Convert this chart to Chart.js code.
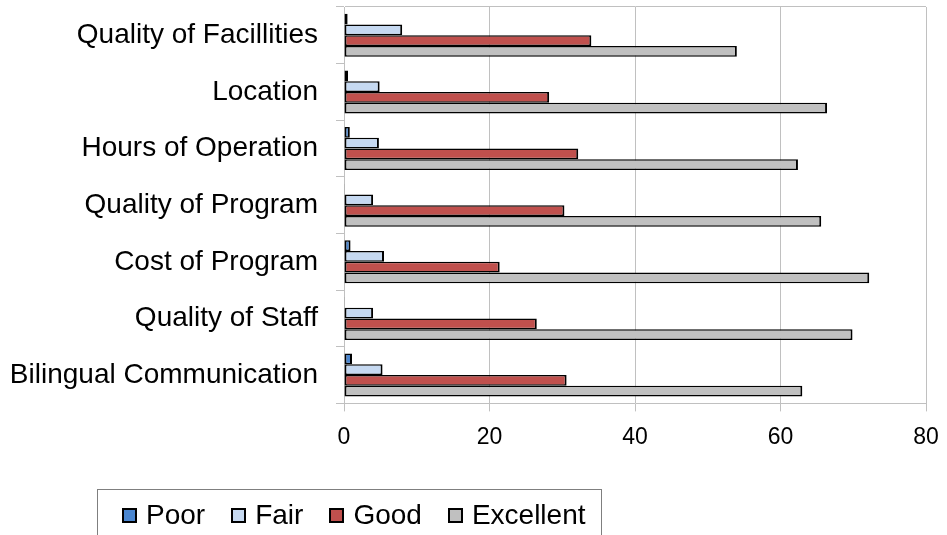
<!DOCTYPE html>
<html>
<head>
<meta charset="utf-8">
<script src="https://cdn.jsdelivr.net/npm/chart.js@4/dist/chart.umd.min.js"></script>
<style>
  html, body { margin: 0; padding: 0; background: #fff; }
  #wrap { position: relative; width: 947px; height: 535px; overflow: hidden; }
  #legend {
    position: absolute; left: 97px; top: 489px; width: 505px; height: 60px;
    border: 1px solid #7f7f7f; box-sizing: border-box;
    display: flex; align-items: flex-start; padding: 11px 0 0 24px;
    font-family: "Liberation Sans", Arial, sans-serif; font-size: 28px; color: #000;
  }
  .item { display: flex; align-items: center; margin-right: 26px; line-height: 28px; }
  .sw { width: 11px; height: 11px; border: 2px solid #000; margin-right: 9px; }
</style>
</head>
<body>
<div id="wrap">
  <canvas id="c" width="947" height="535"></canvas>
  <div id="legend"></div>
</div>
<script>
const categories = ['Quality of Facillities', 'Location', 'Hours of Operation', 'Quality of Program', 'Cost of Program', 'Quality of Staff', 'Bilingual Communication'];
const poor = [0.5, 0.55, 0.8, 0.1, 0.9, 0.1, 1.1];
const fair = [8.0, 4.9, 4.8, 4.0, 5.5, 4.0, 5.3];
const good = [34.0, 28.2, 32.2, 30.3, 21.4, 26.5, 30.6];
const excellent = [54.0, 66.4, 62.4, 65.6, 72.2, 69.9, 63.0];
const xTicks = [0, 20, 40, 60, 80];

const series = [
  { label: 'Poor', data: poor, color: '#4a86d0' },
  { label: 'Fair', data: fair, color: '#c6d9f1' },
  { label: 'Good', data: good, color: '#c0504d' },
  { label: 'Excellent', data: excellent, color: '#c0c0c0' }
];

const FONT = '"Liberation Sans", Arial, sans-serif';

new Chart(document.getElementById('c'), {
  type: 'bar',
  data: {
    labels: categories,
    datasets: series.map(s => ({
      label: s.label, data: s.data, backgroundColor: s.color,
      borderColor: '#000', borderWidth: { top: 1.5, bottom: 1.5, left: 2, right: 2 }, borderSkipped: false,
      categoryPercentage: 0.76, barPercentage: 1
    }))
  },
  options: {
    indexAxis: 'y',
    responsive: false,
    animation: false,
    layout: { padding: { top: 7, right: 21, bottom: 72, left: 0 } },
    plugins: { legend: { display: false }, tooltip: { enabled: false } },
    scales: {
      x: {
        min: xTicks[0], max: xTicks[xTicks.length - 1],
        afterBuildTicks: s => { s.ticks = xTicks.map(v => ({ value: v })); },
        afterFit: s => { s.paddingLeft = 0; s.paddingRight = 0; },
        grid: { color: '#c0c0c0', tickLength: 8, tickColor: '#c0c0c0' },
        border: { color: '#c0c0c0' },
        ticks: { color: '#000', font: { family: FONT, size: 23 }, padding: 12 }
      },
      y: {
        afterFit: s => { s.width = 344; s.paddingTop = 0; s.paddingBottom = 0; },
        grid: {
          drawOnChartArea: true, tickLength: 8,
          color: ctx => ctx.index === 0 ? '#c0c0c0' : 'rgba(0,0,0,0)',
          tickColor: '#c0c0c0'
        },
        border: { color: '#c0c0c0' },
        ticks: { color: '#000', font: { family: FONT, size: 28 }, padding: 18 }
      }
    }
  }
});

const lg = document.getElementById('legend');
series.forEach(s => {
  const it = document.createElement('div');
  it.className = 'item';
  it.innerHTML = `<span class="sw" style="background:${s.color}"></span><span>${s.label}</span>`;
  lg.appendChild(it);
});
</script>
</body>
</html>
